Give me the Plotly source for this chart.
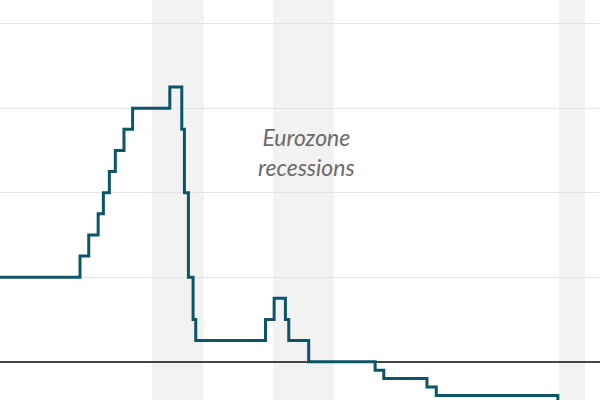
import plotly.graph_objects as go

# ECB deposit facility rate (step changes)
change_dates = ["2003-06-09", "2005-12-06", "2006-03-08", "2006-06-15", "2006-08-09",
                "2006-10-11", "2006-12-13", "2007-03-14", "2007-06-13", "2008-07-09",
                "2008-11-12", "2008-12-10", "2009-01-21", "2009-03-11", "2009-04-08",
                "2011-04-13", "2011-07-13", "2011-11-09", "2011-12-14", "2012-07-11",
                "2014-06-11", "2014-09-10", "2015-12-09", "2016-03-16", "2019-09-18",
                "2020-12-31"]
rates = [1.00, 1.25, 1.50, 1.75, 2.00,
         2.25, 2.50, 2.75, 3.00, 3.25,
         2.75, 2.00, 1.00, 0.50, 0.25,
         0.50, 0.75, 0.50, 0.25, 0.00,
         -0.10, -0.20, -0.30, -0.40, -0.50,
         -0.50]

recession_starts = ["2008-01-01", "2011-07-01", "2019-10-01"]
recession_ends = ["2009-06-30", "2013-03-31", "2020-06-30"]

grid_values = [1, 2, 3, 4]

fig = go.Figure()

for s, e in zip(recession_starts, recession_ends):
    fig.add_shape(type="rect", xref="x", yref="paper", x0=s, x1=e, y0=0, y1=1,
                  fillcolor="#f2f2f2", line_width=0, layer="below")

fig.add_trace(go.Scatter(
    x=change_dates, y=rates, mode="lines", line_shape="hv",
    line=dict(color="#0c5567", width=3), hoverinfo="skip", showlegend=False))

fig.add_annotation(x="2012-06-15", y=2.48, xref="x", yref="y",
                   text="<i>Eurozone<br>recessions</i>", showarrow=False,
                   font=dict(family="Lato", size=23, color="#6b6b6b"),
                   align="center")

fig.update_layout(
    width=600, height=400,
    margin=dict(l=0, r=0, t=0, b=0),
    paper_bgcolor="white", plot_bgcolor="white",
    xaxis=dict(range=["2003-08-16", "2020-12-05"], showgrid=False, zeroline=False,
               showticklabels=False, ticks="", showline=False),
    yaxis=dict(range=[-0.453, 4.28], tickvals=grid_values, showgrid=True,
               gridcolor="#e3e3e3", gridwidth=1.2, showticklabels=False, ticks="",
               zeroline=True, zerolinecolor="#444444", zerolinewidth=1.5,
               showline=False),
)

fig.write_html("out.html",
               config={"displayModeBar": False},
               post_script="document.body.style.margin='0';"
                           "document.documentElement.style.overflow='hidden';")
